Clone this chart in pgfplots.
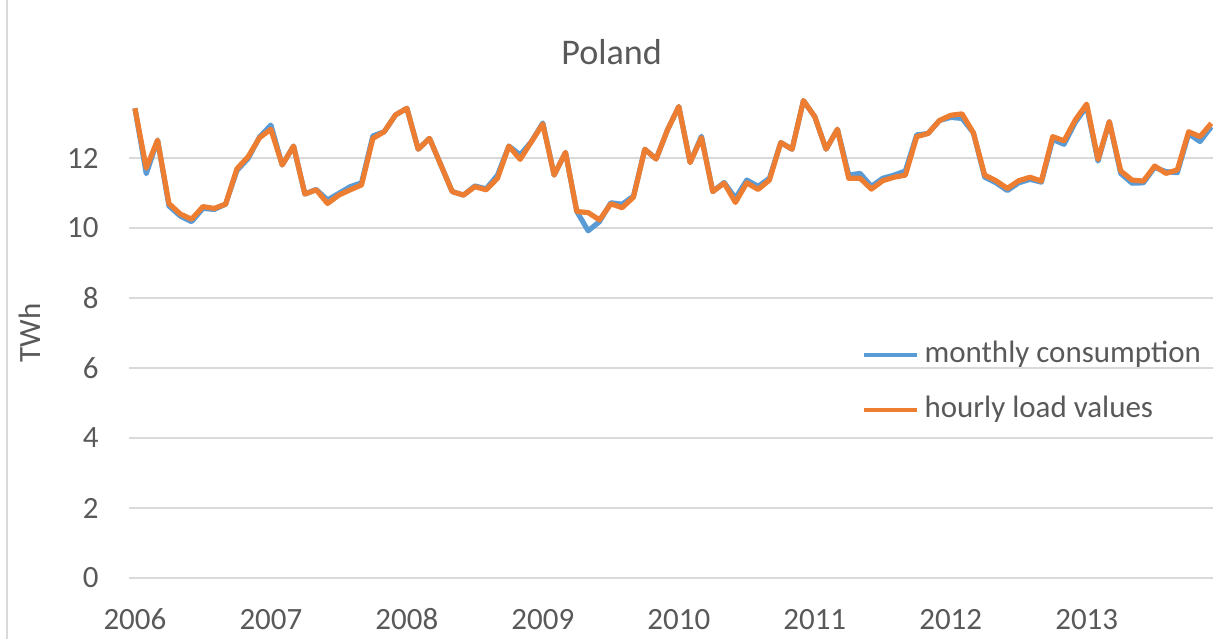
\documentclass[border=0pt]{standalone}
\usepackage{fontspec}
\setmainfont{Carlito}
\usepackage{pgfplots}
\usepackage{pgfplotstable}
\pgfplotsset{compat=1.18}
\definecolor{cblue}{HTML}{5B9BD5}
\definecolor{corange}{HTML}{ED7D31}
\definecolor{txt}{HTML}{595959}
\definecolor{gridc}{HTML}{D9D9D9}

% month index (0 = Jan 2006), monthly consumption, hourly load values (TWh)
\pgfplotstableread{
m cons load
0 13.42 13.42
1 11.55 11.71
2 12.51 12.51
3 10.63 10.70
4 10.34 10.40
5 10.18 10.25
6 10.56 10.61
7 10.53 10.56
8 10.68 10.68
9 11.64 11.69
10 11.99 12.04
11 12.60 12.58
12 12.94 12.82
13 11.80 11.80
14 12.34 12.34
15 10.97 10.97
16 11.10 11.09
17 10.80 10.70
18 10.99 10.94
19 11.18 11.09
20 11.29 11.23
21 12.63 12.56
22 12.75 12.75
23 13.23 13.23
24 13.42 13.42
25 12.25 12.25
26 12.56 12.56
27 11.80 11.80
28 11.04 11.04
29 10.94 10.94
30 11.20 11.18
31 11.12 11.09
32 11.51 11.42
33 12.34 12.34
34 12.09 11.96
35 12.47 12.47
36 13.00 12.97
37 11.51 11.51
38 12.16 12.16
39 10.47 10.47
40 9.92 10.44
41 10.18 10.23
42 10.72 10.69
43 10.68 10.58
44 10.91 10.88
45 12.25 12.25
46 11.97 11.97
47 12.80 12.80
48 13.47 13.47
49 11.87 11.87
50 12.62 12.58
51 11.04 11.04
52 11.30 11.28
53 10.85 10.73
54 11.37 11.29
55 11.19 11.10
56 11.42 11.37
57 12.44 12.44
58 12.25 12.25
59 13.64 13.64
60 13.18 13.18
61 12.25 12.25
62 12.82 12.82
63 11.51 11.42
64 11.56 11.42
65 11.19 11.11
66 11.42 11.35
67 11.51 11.45
68 11.63 11.51
69 12.66 12.61
70 12.70 12.70
71 13.07 13.07
72 13.16 13.22
73 13.13 13.26
74 12.72 12.72
75 11.45 11.51
76 11.29 11.35
77 11.07 11.13
78 11.29 11.35
79 11.39 11.45
80 11.31 11.34
81 12.53 12.61
82 12.39 12.49
83 13.02 13.09
84 13.47 13.54
85 11.91 11.96
86 13.04 13.04
87 11.56 11.63
88 11.28 11.37
89 11.29 11.34
90 11.73 11.77
91 11.61 11.56
92 11.58 11.66
93 12.69 12.75
94 12.47 12.61
95 12.89 12.99
}\poland

\begin{document}
\begin{tikzpicture}
\clip (-50.1pt,-23.6pt) rectangle (420.0pt,224.0pt);
\draw[gridc,line width=0.6pt] (-47.4pt,-23.6pt) -- (-47.4pt,224pt);
\begin{axis}[
 at={(0,0)},anchor=south west,
 scale only axis,width=420pt,height=189.9pt,
 xmin=-0.5,xmax=95.15,ymin=0,ymax=14,
 axis line style={draw=none},
 major tick length=0pt,
 xtick={0,12,24,36,48,60,72,84},
 xticklabels={2006,2007,2008,2009,2010,2011,2012,2013},
 ytick={0,2,4,6,8,10,12},
 ymajorgrids,grid style={gridc,line width=0.5pt},
 /pgf/number format/assume math mode=true,
 tick label style={font=\fontsize{12}{14}\selectfont,text=txt,inner sep=0pt},
 xticklabel style={anchor=base,yshift=-19.8pt},
 yticklabel style={anchor=east,xshift=-11.7pt},
 ylabel={TWh},
 every axis y label/.style={at={(axis description cs:-0.0815,0.5)},rotate=90,
   anchor=base,font=\fontsize{12}{14}\selectfont,text=txt},
 title={Poland},
 every axis title/.style={at={(axis description cs:0.445,1.047)},anchor=base,
   font=\fontsize{14}{17}\selectfont,text=txt},
 legend style={at={(axis description cs:0.676,0.399)},anchor=west,
   draw=none,fill=none,inner sep=0pt,row sep=9.3pt,column sep=2pt,
   font=\fontsize{12}{14}\selectfont,text=txt,
   nodes={inner sep=0pt,text height=9pt,text depth=3pt}},
 legend cell align=left,
 legend image code/.code={\draw[#1,line width=1.6pt] (0pt,0pt) -- (20.5pt,0pt);},
]
\addplot[cblue,line width=2pt,line join=round] table[x=m,y=cons] {\poland};
\addplot[corange,line width=2pt,line join=round] table[x=m,y=load] {\poland};
\legend{monthly consumption,hourly load values}
\end{axis}
\end{tikzpicture}
\end{document}
